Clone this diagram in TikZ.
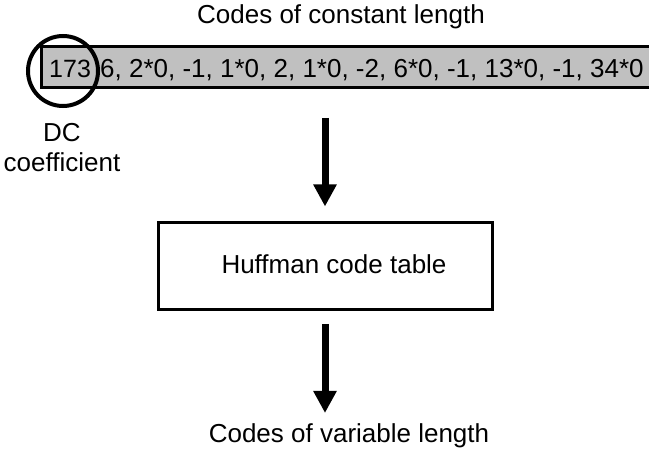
\documentclass[tikz,border=0pt]{standalone}
\usepackage{fontspec}
\setmainfont{Liberation Sans}
\usetikzlibrary{arrows.meta}
\definecolor{bargray}{RGB}{192,192,192}
\tikzset{
  txt/.style={font=\fontsize{26}{30}\selectfont, inner sep=0pt},
  bigarrow/.style={line width=7pt, -{Triangle[length=22pt,width=22pt]}},
  barbox/.style={draw, line width=3pt, fill=bargray, minimum width=612pt, minimum height=41pt, inner sep=0pt},
  tablebox/.style={draw, line width=3pt, fill=white, minimum width=334pt, minimum height=87pt, inner sep=0pt}
}
\begin{document}
\begin{tikzpicture}[x=1pt,y=-1pt]
\useasboundingbox (0,0) rectangle (649,449);
\node[txt] (title) at (341,17) {Codes of constant length};
\node[barbox] (bar) at (347,67.5) {};
\node[inner sep=0pt, font=\fontsize{25}{30}\selectfont, anchor=base west] (dc) at (49,78) {173};
\node[txt, anchor=base west] (codes) at (100,78) {6, 2*0, -1, 1*0, 2, 1*0, -2, 6*0, -1, 13*0, -1, 34*0};
\node[draw, circle, line width=4pt, minimum size=70pt, inner sep=0pt] (ring) at (63,71) {};
\node[txt, align=center, anchor=north] (dclabel) at (62,123.5) {DC\\coefficient};
\node[tablebox] (table) at (325,266.5) {};
\node[txt] (tabletxt) at (334,264) {Huffman code table};
\node[txt, anchor=base] (out) at (349,443) {Codes of variable length};
\coordinate (a1) at (325,118);
\coordinate (a2) at (325,324);
\coordinate (e2) at (325,413);
\draw[bigarrow] (a1) -- ([yshift=15pt]table.north);
\draw[bigarrow] (a2) -- (e2);
\end{tikzpicture}
\end{document}
